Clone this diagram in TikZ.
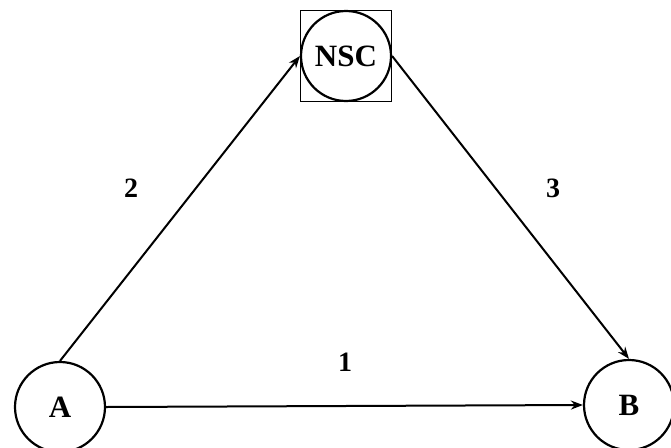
\documentclass[tikz,border=0pt]{standalone}
\usepackage{fontspec}
\setmainfont{Liberation Serif}
\usetikzlibrary{arrows.meta}
\begin{document}
\begin{tikzpicture}[x=1pt,y=-1pt,
  circ/.style={draw, circle, line width=2.2pt, minimum size=90pt, inner sep=0pt, font=\fontsize{31}{33}\selectfont\bfseries},
  arr/.style={line width=2pt, -{Stealth[length=12pt,width=9pt]}},
  lbl/.style={font=\fontsize{28}{30}\selectfont\bfseries}]
\useasboundingbox (0,0) rectangle (671,447);
\clip (0,0) rectangle (671,447);
\node[circ] (A) at (60,407) {A};
\node[circ] (B) at (629,405) {B};
\node[circ] (NSC) at (346,56) {NSC};
\node[draw, line width=1.5pt, minimum size=91pt, inner sep=0pt] (sq) at (346,56) {};
\draw[arr] (A.north) -- (NSC.west);
\draw[arr] (NSC.east) -- (B.north);
\draw[arr] (A.east) -- (B.west);
\node[lbl] (l2) at (131,188) {2};
\node[lbl] (l3) at (553,188) {3};
\node[lbl] (l1) at (345,362) {1};
\end{tikzpicture}
\end{document}
